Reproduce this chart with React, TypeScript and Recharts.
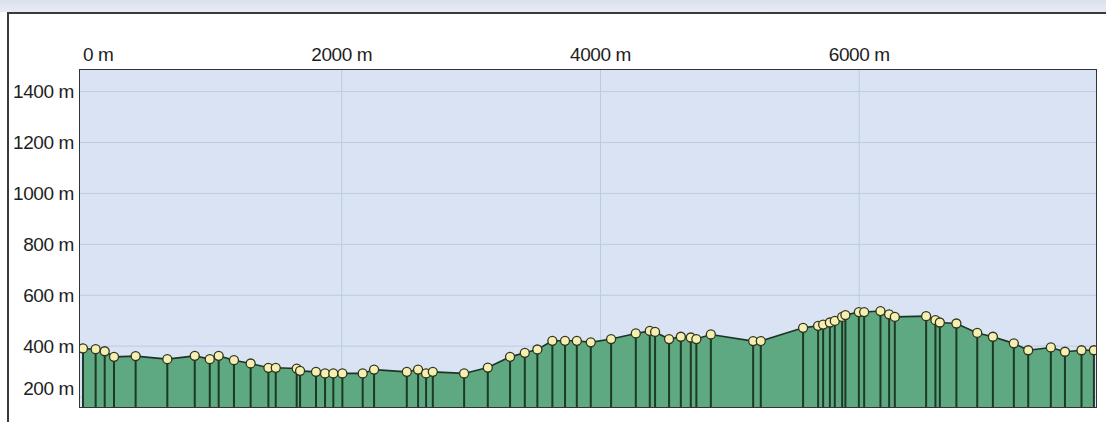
import React from "react";
import { ComposedChart, Area, Line, XAxis, YAxis, CartesianGrid } from "recharts";

// Distance along the route (m) and elevation (m) of each waypoint
const distances = [
  0, 98, 168, 240, 407, 652, 864, 980, 1049, 1167, 1296, 1433, 1490, 1652, 1678, 1801, 1871, 1935,
  2005, 2162, 2250, 2503, 2590, 2652, 2704, 2946, 3129, 3301, 3415, 3512, 3628, 3726, 3817, 3925,
  4082, 4273, 4381, 4422, 4530, 4621, 4698, 4741, 4853, 5180, 5239, 5566, 5682, 5721, 5773, 5811,
  5868, 5893, 5997, 6038, 6164, 6231, 6275, 6517, 6589, 6623, 6751, 6912, 7033, 7195, 7306, 7481,
  7590, 7718, 7814,
];
const elevations = [
  391, 388, 380, 358, 361, 349, 362, 349, 362, 345, 332, 315, 315, 312, 303, 299, 293, 293,
  293, 293, 308, 299, 308, 293, 299, 293, 316, 358, 374, 387, 421, 421, 421, 415,
  428, 450, 460, 456, 428, 437, 434, 428, 446, 420, 420, 472, 480, 485, 493, 499,
  515, 522, 534, 534, 538, 525, 515, 518, 502, 493, 489, 452, 437, 411, 384, 395,
  378, 384, 384,
];
const distanceTicks = [0, 2000, 4000, 6000];
const elevationTicks = [200, 400, 600, 800, 1000, 1200, 1400];
const gridDistances = [2000, 4000, 6000];

const data = distances.map((d, i) => ({ dist: d, ele: elevations[i] }));

const W = 1106;
const H = 422;
const MARGIN = { top: 40, right: 10, bottom: 15, left: 8 };
const PLOT_BOTTOM = H - MARGIN.bottom;
const FONT = "'Liberation Sans', Arial, sans-serif";

const DropLine = (props: any) => {
  const { cx, cy, index } = props;
  if (cx == null || cy == null) return <g key={`d${index}`} />;
  return (
    <line
      key={`d${index}`}
      x1={cx}
      y1={cy}
      x2={cx}
      y2={PLOT_BOTTOM}
      stroke="#1c3a26"
      strokeWidth={2}
    />
  );
};

const Marker = (props: any) => {
  const { cx, cy, index } = props;
  if (cx == null || cy == null) return <g key={`m${index}`} />;
  return (
    <circle
      key={`m${index}`}
      cx={cx}
      cy={cy}
      r={4.5}
      fill="#f3f0b2"
      stroke="#34331e"
      strokeWidth={1.3}
    />
  );
};

const XTick = (props: any) => {
  const { x, y, payload } = props;
  const v = payload.value;
  return (
    <text
      x={x}
      y={y}
      textAnchor={v === 0 ? "start" : "middle"}
      fontFamily={FONT}
      fontSize={19}
      letterSpacing={-0.4}
      fill="#1e1e1e"
    >
      {`${v} m`}
    </text>
  );
};

const YTick = (props: any) => {
  const { x, y, payload } = props;
  const v = payload.value;
  return (
    <text
      x={x}
      y={y + (v === 200 ? -9 : 0)}
      dy="0.36em"
      textAnchor="end"
      fontFamily={FONT}
      fontSize={19}
      letterSpacing={-0.4}
      fill="#1e1e1e"
    >
      {`${v} m`}
    </text>
  );
};

export default function App() {
  return (
    <div
      style={{
        position: "absolute",
        left: 0,
        top: 0,
        width: W,
        height: H,
        background: "#ffffff",
        overflow: "hidden",
      }}
    >
      {/* top band */}
      <div
        style={{
          position: "absolute",
          left: 0,
          top: 0,
          width: W,
          height: 12,
          background: "linear-gradient(#dde1ec, #e9ebf3)",
        }}
      />
      {/* outer frame */}
      <div
        style={{
          position: "absolute",
          left: 7,
          top: 12,
          width: W,
          height: H,
          borderTop: "2px solid #3a3a3a",
          borderLeft: "2px solid #3a3a3a",
          boxSizing: "border-box",
        }}
      />
      <div style={{ position: "absolute", left: 0, top: 0 }}>
        <ComposedChart width={W} height={H} data={data} margin={MARGIN}>
          <CartesianGrid
            fill="#dae3f4"
            stroke="#bfcae2"
            strokeWidth={1}
            verticalValues={gridDistances}
            horizontalValues={elevationTicks}
          />
          <XAxis
            dataKey="dist"
            type="number"
            orientation="top"
            domain={[-23, 7830]}
            ticks={distanceTicks}
            allowDataOverflow
            height={30}
            tickSize={0}
            tickMargin={9}
            axisLine={false}
            tickLine={false}
            tick={<XTick />}
          />
          <YAxis
            dataKey="ele"
            type="number"
            domain={[161, 1485]}
            ticks={elevationTicks}
            allowDataOverflow
            width={72}
            tickSize={0}
            tickMargin={6}
            axisLine={false}
            tickLine={false}
            tick={<YTick />}
          />
          <Area
            type="linear"
            dataKey="ele"
            baseValue={161}
            fill="#5ea882"
            fillOpacity={1}
            stroke="#1d3526"
            strokeWidth={1.6}
            dot={<DropLine />}
            activeDot={false}
            isAnimationActive={false}
          />
          <Line
            type="linear"
            dataKey="ele"
            stroke="none"
            dot={<Marker />}
            activeDot={false}
            isAnimationActive={false}
          />
        </ComposedChart>
      </div>
      {/* plot frame */}
      <div
        style={{
          position: "absolute",
          left: 79,
          top: 69,
          width: 1096 - 79 + 1,
          height: 407 - 69 + 1,
          border: "1px solid #333",
          boxSizing: "border-box",
          pointerEvents: "none",
        }}
      />
    </div>
  );
}
